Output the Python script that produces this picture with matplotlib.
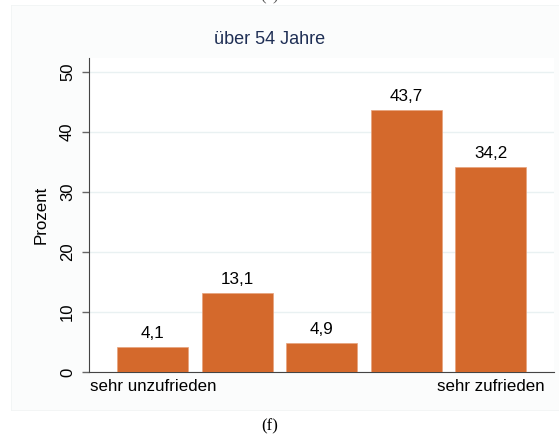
import matplotlib.pyplot as plt

plt.rcParams['font.family'] = ['Liberation Sans', 'DejaVu Sans']

positions = [1, 2, 3, 4, 5]
values = [4.1, 13.1, 4.9, 43.7, 34.2]
value_labels = ['4,1', '13,1', '4,9', '43,7', '34,2']
yticks = [0, 10, 20, 30, 40, 50]
xtick_pos = [1, 5]
xtick_labels = ['sehr unzufrieden', 'sehr zufrieden']

bar_color = '#d4692c'
title_color = '#1f2f55'

fig = plt.figure(figsize=(5.59, 4.38), dpi=100)

# faint graph region background, drawn as an empty axes behind the plot
bg = fig.add_axes([11 / 559, 1 - 410 / 438, 1 - 11 / 559, (410 - 5) / 438], zorder=0)
bg.set_facecolor('#fbfcfc')
bg.set_xticks([])
bg.set_yticks([])
for s in bg.spines.values():
    s.set_color('#f1f4f4')
    s.set_linewidth(0.6)

ax = fig.add_axes([89 / 559, 1 - 372 / 438, (554 - 89) / 559, (372 - 58) / 438], zorder=2)
ax.set_facecolor('white')

ax.bar(positions, values, width=0.838, color=bar_color, edgecolor='#e7a27c',
       linewidth=0.5, zorder=3)
for x, v, lab in zip(positions, values, value_labels):
    ax.text(x, v + 1.0, lab, ha='center', va='bottom', fontsize=12.3, color='black')

ax.set_xlim(0.245, 5.75)
ax.set_ylim(0, 52.3)
ax.set_yticks(yticks)
ax.set_yticklabels([str(t) for t in yticks], rotation=90, va='center', fontsize=12)
ax.set_xticks(xtick_pos)
ax.set_xticklabels(xtick_labels, fontsize=12.2)
ax.tick_params(axis='x', length=0, pad=5)
ax.tick_params(axis='y', length=5, width=1, color='#666666', pad=5)
ax.grid(axis='y', color='#e9f1f2', linewidth=1, zorder=0)
ax.set_axisbelow(True)

for side in ['top', 'right']:
    ax.spines[side].set_visible(False)
ax.spines['left'].set_color('#444444')
ax.spines['bottom'].set_color('#444444')

ax.set_ylabel('Prozent', fontsize=12.2, labelpad=8)

fig.text(270 / 559, 1 - 40 / 438, 'über 54 Jahre', ha='center', va='center',
         fontsize=13, color=title_color, zorder=3)
fig.text(270 / 559, 1 - 426 / 438, '(f)', ha='center', va='center',
         fontsize=12, family='Liberation Serif')
fig.text(270 / 559, 1 + 4 / 438, '(e)', ha='center', va='center',
         fontsize=12, family='Liberation Serif', color='#555555')

fig.savefig('out.png', dpi=100)
